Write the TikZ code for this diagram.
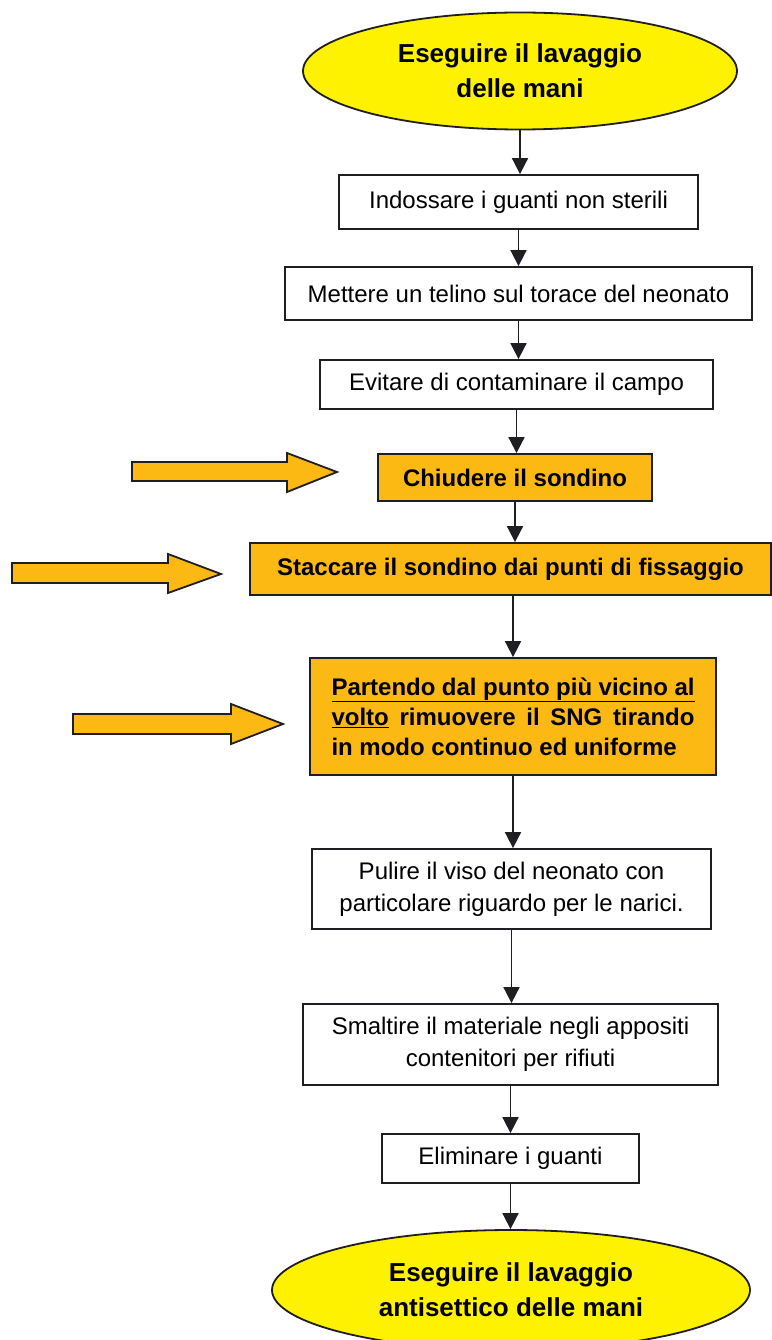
\documentclass[tikz,border=0pt]{standalone}
\usepackage{fontspec}
\setmainfont{Liberation Sans}
\usetikzlibrary{arrows.meta,shapes.geometric}
\definecolor{giallo}{RGB}{255,242,0}
\definecolor{arancio}{RGB}{253,185,19}
\definecolor{tratto}{RGB}{30,30,35}
\begin{document}
\begin{tikzpicture}[x=1pt, y=-1pt,
    stepbox/.style={draw=tratto, line width=1.8pt, rectangle, inner sep=0pt,
      align=center, font=\fontsize{24}{32}\selectfont},
    keybox/.style={stepbox, fill=arancio, font=\fontsize{24}{30}\selectfont\bfseries},
    terminal/.style={draw=tratto, line width=1.8pt, ellipse, fill=giallo, inner sep=0pt,
      align=center, font=\fontsize{26}{35}\selectfont\bfseries},
    flow/.style={draw=tratto, line width=1.8pt, -{Triangle[length=16pt,width=16pt]}},
    pointer/.style={draw=tratto, line width=1.8pt, fill=arancio, line join=miter}]
  \useasboundingbox (0,0) rectangle (771,1340);
  \draw
    (520,71) node[terminal, minimum width=434pt, minimum height=117pt] (inizio)
      {Eseguire il lavaggio\\delle mani}
    (518.5,202) node[stepbox, minimum width=359pt, minimum height=54pt] (guanti)
      {Indossare i guanti non sterili}
    (518.5,293.5) node[stepbox, minimum width=467pt, minimum height=53pt] (telino)
      {Mettere un telino sul torace del neonato}
    (516.5,384.5) node[stepbox, minimum width=393pt, minimum height=49pt] (campo)
      {Evitare di contaminare il campo}
    (515,477.5) node[keybox, minimum width=274pt, minimum height=47pt] (chiudere)
      {Chiudere il sondino}
    (510.5,569) node[keybox, minimum width=521pt, minimum height=52pt] (staccare)
      {Staccare il sondino dai punti di fissaggio}
    (513,716.5) node[keybox, align=left, minimum width=406pt, minimum height=117pt] (rimuovere)
      {\underline{\hbox to 363pt{Partendo dal punto più vicino al}}\\
       \hbox to 363pt{\underline{volto} rimuovere il SNG tirando}\\
       in modo continuo ed uniforme}
    (511.5,889) node[stepbox, minimum width=399pt, minimum height=80pt] (pulire)
      {Pulire il viso del neonato con\\particolare riguardo per le narici.}
    (510.5,1044.5) node[stepbox, minimum width=415pt, minimum height=81pt] (smaltire)
      {Smaltire il materiale negli appositi\\contenitori per rifiuti}
    (510.5,1158.5) node[stepbox, minimum width=257pt, minimum height=49pt] (eliminare)
      {Eliminare i guanti}
    (511,1290) node[terminal, minimum width=478pt, minimum height=120pt] (fine)
      {Eseguire il lavaggio\\antisettico delle mani};
  \begin{scope}[flow]
    \draw (inizio) -- (inizio |- guanti.north);
    \draw (guanti) -- (guanti |- telino.north);
    \draw (telino) -- (telino |- campo.north);
    \draw (campo) -- (campo |- chiudere.north);
    \draw (chiudere) -- (chiudere |- staccare.north);
    \draw (rimuovere |- staccare.south) -- (rimuovere);
    \draw (rimuovere) -- (rimuovere |- pulire.north);
    \draw (pulire) -- (pulire |- smaltire.north);
    \draw (smaltire) -- (smaltire |- eliminare.north);
    \draw (eliminare) -- (eliminare |- fine.north);
  \end{scope}
  % frecce di evidenza
  \draw[pointer] (132,462) -- (287,462) -- (287,453) -- (337,472) -- (287,492)
    -- (287,481) -- (132,481) -- cycle;
  \draw[pointer] (12,563) -- (168,563) -- (168,554) -- (221,574) -- (168,593)
    -- (168,583) -- (12,583) -- cycle;
  \draw[pointer] (73,714) -- (231,714) -- (231,704) -- (283,724) -- (231,744)
    -- (231,734) -- (73,734) -- cycle;
\end{tikzpicture}
\end{document}
